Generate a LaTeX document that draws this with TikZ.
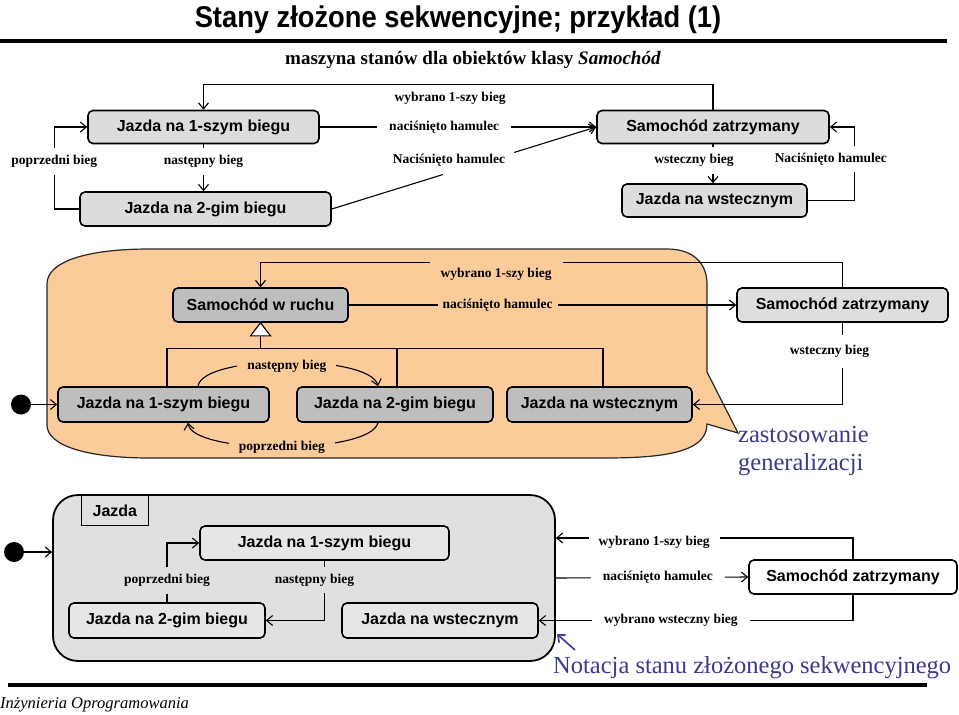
\documentclass[tikz,border=0pt]{standalone}
\usepackage{fontspec}
\usepackage{graphicx}
\setmainfont{Liberation Serif}
\setsansfont{Liberation Sans}
\usetikzlibrary{arrows.meta,calc}
\definecolor{gtop}{HTML}{DCDCDC}
\definecolor{gmid}{HTML}{BEBEBE}
\definecolor{gmidl}{HTML}{DEDEDE}
\definecolor{obg}{HTML}{FCCB9A}
\definecolor{gbot}{HTML}{E0E0E0}
\definecolor{gbox}{HTML}{E6E6E6}
\definecolor{bluet}{HTML}{3A3A8E}
\tikzset{
  st/.style={draw, line width=1.6pt, rounded corners=5pt, inner sep=0pt,
    font=\sffamily\bfseries\fontsize{16}{19}\selectfont},
  lab/.style={font=\bfseries\fontsize{13.5}{16}\selectfont, inner sep=2pt},
  ln/.style={line width=1.1pt},
  conn/.style={line width=1.1pt, -{Straight Barb[length=6pt,width=10pt,line width=1.1pt]}},
  initdot/.style={circle, fill=black, minimum size=20pt, inner sep=0pt},
}
\begin{document}
\begin{tikzpicture}[x=1pt,y=-1pt]
\useasboundingbox (0,0) rectangle (959,715);

% title
\node[font=\sffamily\bfseries\fontsize{30}{34}\selectfont, anchor=base, inner sep=0] (title) at (458,27)
  {\scalebox{0.91}[1]{Stany złożone sekwencyjne; przykład (1)}};
\draw[line width=4pt] (0,41) -- (947,41);
\node[font=\bfseries\fontsize{19}{22}\selectfont, anchor=base, inner sep=0] (sub) at (473,64)
  {maszyna stanów dla obiektów klasy \textit{Samochód}};

% ---------- top diagram ----------
\node[st, fill=gtop, minimum width=231pt, minimum height=33pt] (t1) at (203.5,127) {Jazda na 1-szym biegu};
\node[st, fill=gtop, minimum width=251pt, minimum height=34pt] (t2) at (205.5,209) {Jazda na 2-gim biegu};
\node[st, fill=gtop, minimum width=232pt, minimum height=33pt] (t3) at (713,127) {Samochód zatrzymany};
\node[st, fill=gtop, minimum width=185pt, minimum height=33pt] (t4) at (714.5,200.5) {Jazda na wstecznym};

\draw[conn] (t3.north) -- ++(0,-25) -| (t1.north);
\node[lab] (l1) at (450,98) {wybrano 1-szy bieg};
\draw[conn] (t1.east) -- node[lab, fill=white, pos=0.45, inner xsep=12pt] (l2) {naciśnięto hamulec} (t3.west);
\draw[ln] (t2.east) -- ($(t2.east)!0.42!(t3.west)$);
\draw[conn] ($(t2.east)!0.69!(t3.west)$) -- (t3.west);
\node[lab] (l3) at (449,160) {Naciśnięto hamulec};
\draw[conn] (t1.south) -- node[lab, fill=white, pos=0.37, inner ysep=7pt] (l4) {następny bieg} (t1.south |- t2.north);
\draw[conn] (t2.west) -- ++(-25,0) |- node[lab, fill=white, pos=0.29, inner ysep=7pt] (l5) {poprzedni bieg} (t1.west);
\draw[conn] (t3.south) -- node[lab, fill=white, pos=0.42, xshift=-19pt, inner ysep=7.5pt] (l6) {wsteczny bieg} (t3.south |- t4.north);
\draw[conn] (t4.east) -- ++(47,0) |- node[lab, fill=white, pos=0.28, xshift=-24pt, inner ysep=7pt] (l7) {Naciśnięto hamulec} (t3.east);

% ---------- middle diagram ----------
\draw[fill=obg, line width=1.2pt, draw=black!85] (150,249) -- (667,249)
  .. controls (695,249) and (707,265) .. (707,284) -- (707,372) -- (738,433) -- (707,424)
  .. controls (707,452) and (665,458) .. (605,458) -- (150,458)
  .. controls (85,458) and (47,445) .. (47,425) -- (47,284)
  .. controls (47,262) and (85,249) .. (150,249) -- cycle;

\node[st, fill=gmid, minimum width=175pt, minimum height=34pt] (m1) at (260.5,305) {Samochód w ruchu};
\node[st, fill=gmid, minimum width=211pt, minimum height=35pt] (m2) at (163.5,404.5) {Jazda na 1-szym biegu};
\node[st, fill=gmid, minimum width=196pt, minimum height=35pt] (m3) at (395,404.5) {Jazda na 2-gim biegu};
\node[st, fill=gmid, minimum width=185pt, minimum height=35pt] (m4) at (599.5,404.5) {Jazda na wstecznym};
\node[st, fill=gmidl, minimum width=211pt, minimum height=34pt] (m5) at (842.5,305) {Samochód zatrzymany};
\node[initdot] (i1) at (21,404.5) {};

\coordinate (gtri) at ($(m1.south)+(0,13)$);
\coordinate (gbar) at ($(m1.south)+(0,26)$);
\draw[ln] (gtri) -- (gbar);
\draw[ln] ([xshift=3.5pt]m2.north) |- (gbar);
\draw[ln] ([xshift=3.5pt]m4.north) |- (gbar);
\draw[ln] ([xshift=2pt]m3.north) -- ([xshift=2pt]m3.north |- gbar);
\draw[ln, fill=white] (m1.south) -- ++(-10,13) -- ++(20,0) -- cycle;

\draw[conn] (i1) -- (m2.west);
\draw[conn] ([xshift=34.5pt]m2.north) .. controls +(5,-32) and +(-8,-32) ..
  node[lab, fill=obg, pos=0.5, yshift=-4pt, inner xsep=10pt, inner ysep=4pt] (l16) {następny bieg} ([xshift=-17pt]m3.north);
\draw[conn] ([xshift=-17pt]m3.south) .. controls +(-8,32) and +(5,32) ..
  node[lab, fill=obg, pos=0.5, yshift=-1pt, inner xsep=10pt, inner ysep=1.5pt] (l17) {poprzedni bieg} ([xshift=24.5pt]m2.south);

\draw[conn] (m5.north) -- ++(0,-25) -| (m1.north);
\node[lab, fill=obg, inner xsep=11pt, inner ysep=7pt] (l8) at (496,274) {wybrano 1-szy bieg};
\draw[conn] (m1.east) -- node[lab, fill=obg, pos=0.384, inner xsep=5pt] (l9) {naciśnięto hamulec} (m5.west);
\draw[conn] (m5.south) |- node[lab, fill=white, pos=0.176, xshift=-13pt, inner ysep=10pt] (l10) {wsteczny bieg} (m4.east);

\node[anchor=base west, text=bluet, font=\fontsize{24.5}{29}\selectfont, inner sep=0] (zg1) at (738,442) {zastosowanie};
\node[anchor=base west, text=bluet, font=\fontsize{24.5}{29}\selectfont, inner sep=0] (zg2) at (738,470) {generalizacji};

% ---------- bottom diagram ----------
\node[draw, line width=1.8pt, rounded corners=25pt, fill=gbot, minimum width=502pt, minimum height=166pt, inner sep=0] (b0) at (304,578) {};
\node[draw, line width=0.8pt, minimum width=67pt, minimum height=30pt, anchor=north west, inner sep=0,
  font=\sffamily\bfseries\fontsize{16}{19}\selectfont] (b0t) at (81,495) {Jazda};
\node[st, fill=gbox, minimum width=249pt, minimum height=34pt] (b1) at (324.5,543) {Jazda na 1-szym biegu};
\node[st, fill=gbox, minimum width=196pt, minimum height=35pt] (b2) at (167,620.5) {Jazda na 2-gim biegu};
\node[st, fill=gbox, minimum width=196pt, minimum height=35pt] (b3) at (440,620.5) {Jazda na wstecznym};
\node[st, fill=white, minimum width=208pt, minimum height=34pt] (b4) at (853,577) {Samochód zatrzymany};
\node[initdot] (i2) at (14,552) {};
\draw[conn] (i2) -- (i2 -| b0.west);

\draw[conn] (b2.north) |- node[lab, fill=gbot, pos=0.183, inner ysep=7pt] (l11) {poprzedni bieg} (b1.west);
\draw[conn] (b1.south) |- node[lab, fill=gbot, pos=0.16, xshift=-10pt, inner ysep=7pt] (l12) {następny bieg} (b2.east);

\draw[conn] (b4.north) |- ([yshift=40pt]b0.east);
\node[lab, fill=white, inner xsep=10pt, inner ysep=3pt] (l13) at (654,542) {wybrano 1-szy bieg};
\draw[conn] (b0.east) -- node[lab, fill=white, pos=0.53, inner xsep=12pt] (l14) {naciśnięto hamulec} (b4.west);
\draw[conn] (b4.south) |- node[lab, fill=white, pos=0.79, inner xsep=12pt] (l15) {wybrano wsteczny bieg} (b3.east);

\coordinate (ba1) at (575,650);
\coordinate (ba2) at (557,634);
\draw[draw=bluet, line width=1.6pt, -{Straight Barb[length=6pt,width=10pt,line width=1.6pt]}] (ba1) -- (ba2);
\node[text=bluet, font=\fontsize{24.5}{29}\selectfont, anchor=base west, inner sep=0] (nt) at (553,673)
  {Notacja stanu złożonego sekwencyjnego};

\draw[line width=3.5pt] (8,685) -- (927,685);
\node[font=\itshape\fontsize{16.5}{19}\selectfont, anchor=base west, inner sep=0] (foot) at (0,708)
  {Inżynieria Oprogramowania};
\end{tikzpicture}
\end{document}
